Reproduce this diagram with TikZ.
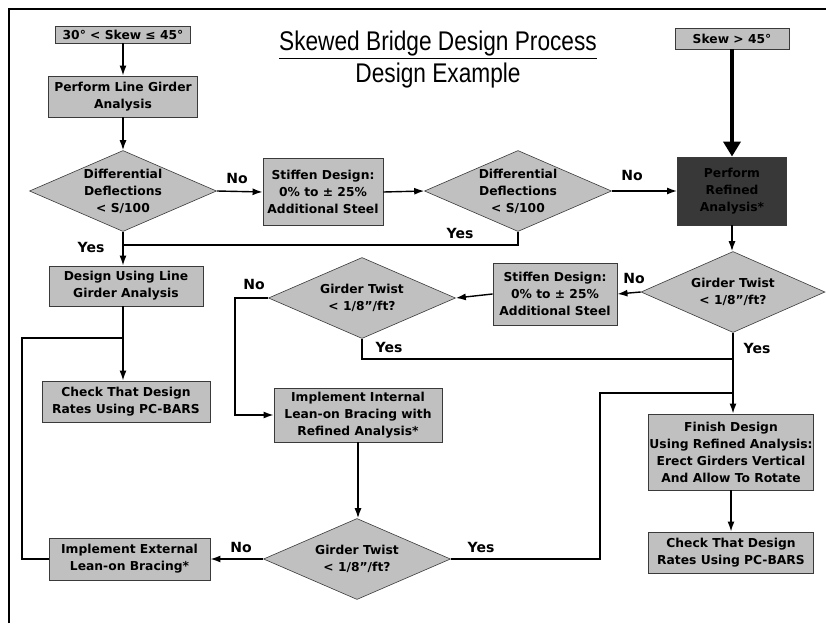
\documentclass[tikz,border=0pt]{standalone}
\usepackage{fontspec}
\setmainfont{DejaVu Sans}
\newfontfamily\titlefont{Liberation Sans}[FakeStretch=0.84]
\usetikzlibrary{arrows.meta,shapes.geometric}
\definecolor{boxgray}{HTML}{C0C0C0}
\definecolor{darkbox}{HTML}{383838}
\definecolor{edgegray}{HTML}{3A3A3A}
\begin{document}
\begin{tikzpicture}[x=1pt,y=-1pt,
  boxtext/.style={font=\fontsize{12.3}{17}\selectfont\bfseries},
  procbox/.style={rectangle,draw=edgegray,line width=0.9pt,fill=boxgray,align=center,inner sep=0pt,boxtext},
  decision/.style={diamond,draw=edgegray,line width=0.6pt,fill=boxgray,inner sep=0pt,minimum width=187pt,minimum height=81pt},
  ylab/.style={font=\fontsize{14}{16}\selectfont\bfseries},
  conn/.style={line width=1.4pt},
  arr/.style={conn,-{Latex[length=10pt,width=7pt]}}
]
\useasboundingbox (0,0) rectangle (826,623);
\draw[line width=2.5pt] (9,623) -- (9,9) -- (826,9);

% title
\node[font=\titlefont\fontsize{27}{30}\selectfont] (title) at (438,45) {\underline{Skewed Bridge Design Process}};
\node[font=\titlefont\fontsize{27}{30}\selectfont] (sub) at (438,76) {Design Example};

% left column
\node[procbox,minimum width=135pt,minimum height=17pt] (s1) at (123,34.5) {30° < Skew ≤ 45°};
\node[procbox,minimum width=149pt,minimum height=41pt] (p1) at (123,96.5) {Perform Line Girder\\Analysis};
\node[decision,label={[boxtext,align=center]center:Differential\\Deflections\\< S/100}] (d1) at (123,191) {};
\node[procbox,minimum width=154pt,minimum height=40pt] (du) at (126,286) {Design Using Line\\Girder Analysis};
\node[procbox,minimum width=168pt,minimum height=41pt] (c1) at (126,401.5) {Check That Design\\Rates Using PC-BARS};
\node[procbox,minimum width=161pt,minimum height=42pt] (ie) at (129.5,559) {Implement External\\Lean-on Bracing*};

% top row
\node[procbox,minimum width=120pt,minimum height=67pt] (sd1) at (323,192) {Stiffen Design:\\0\% to ± 25\%\\Additional Steel};
\node[decision,label={[boxtext,align=center]center:Differential\\Deflections\\< S/100}] (d2) at (518,191) {};
\node[procbox,fill=darkbox,text=black,minimum width=109pt,minimum height=68pt] (rf) at (732,191) {Perform\\Refined\\Analysis*};
\node[procbox,minimum width=114pt,minimum height=21pt] (s2) at (732,38.5) {Skew > 45°};

% middle
\node[decision,minimum width=184pt,label={[boxtext,align=center]center:Girder Twist\\< 1/8”/ft?}] (d3) at (733,292) {};
\node[procbox,minimum width=124pt,minimum height=62pt] (sd2) at (555,294) {Stiffen Design:\\0\% to ± 25\%\\Additional Steel};
\node[decision,label={[boxtext,align=center]center:Girder Twist\\< 1/8”/ft?}] (d4) at (362,298) {};
\node[procbox,minimum width=168pt,minimum height=54pt] (ii) at (358,415) {Implement Internal\\Lean-on Bracing with\\Refined Analysis*};
\node[decision,label={[boxtext,align=center]center:Girder Twist\\< 1/8”/ft?}] (d5) at (357,559) {};
\node[procbox,minimum width=165pt,minimum height=76pt] (fin) at (731,452) {Finish Design\\Using Refined Analysis:\\Erect Girders Vertical\\And Allow To Rotate};
\node[procbox,minimum width=165pt,minimum height=41pt] (c2) at (731,552.5) {Check That Design\\Rates Using PC-BARS};

% junction coordinates
\coordinate (jl1) at (123,245);
\coordinate (jl2) at (123,338);
\coordinate (jr1) at (733,359);
\coordinate (jr2) at (733,393);

% connectors
\draw[arr] (s1) -- (p1);
\draw[arr] (p1) -- (d1);
\draw[arr] (d1.south) -- (d1.south |- du.north);
\draw[arr] (d1.east) -- (sd1.west);
\draw[arr] (sd1.east) -- (d2.west);
\draw[arr] (d2.east) -- (rf.west);
\draw[conn] (d2.south) |- (jl1);
\draw[line width=3.6pt,-{Triangle[length=15pt,width=17pt]}] (s2.south) -- (rf.north);
\draw[arr] (rf.south) -- (rf.south |- d3.north);
\draw[arr] (d3.west) -- (sd2.east);
\draw[arr] (sd2.west) -- (d4.east);
\draw[arr] (d4.west) -- (235,298) |- (ii.west);
\draw[conn] (d4.south) |- (jr1);
\draw[arr] (d3.south) -- (d3.south |- fin.north);
\draw[arr] (ii.south) -- (ii.south |- d5.north);
\draw[arr] (d5.west) -- (ie.east);
\draw[conn] (ie.west) -- (22,559) |- (jl2);
\draw[conn] (d5.east) -- (600,559) |- (jr2);
\draw[arr] (du.south -| jl2) -- (c1.north -| jl2);
\draw[arr] (fin.south) -- (c2.north);

% labels
\node[ylab] (l1) at (237,178) {No};
\node[ylab] (l2) at (632,175) {No};
\node[ylab] (l3) at (91,247) {Yes};
\node[ylab] (l4) at (460,233) {Yes};
\node[ylab] (l5) at (634,278) {No};
\node[ylab] (l6) at (254,284) {No};
\node[ylab] (l7) at (389,347) {Yes};
\node[ylab] (l8) at (757,348) {Yes};
\node[ylab] (l9) at (241,547) {No};
\node[ylab] (l10) at (481,547) {Yes};
\end{tikzpicture}
\end{document}
